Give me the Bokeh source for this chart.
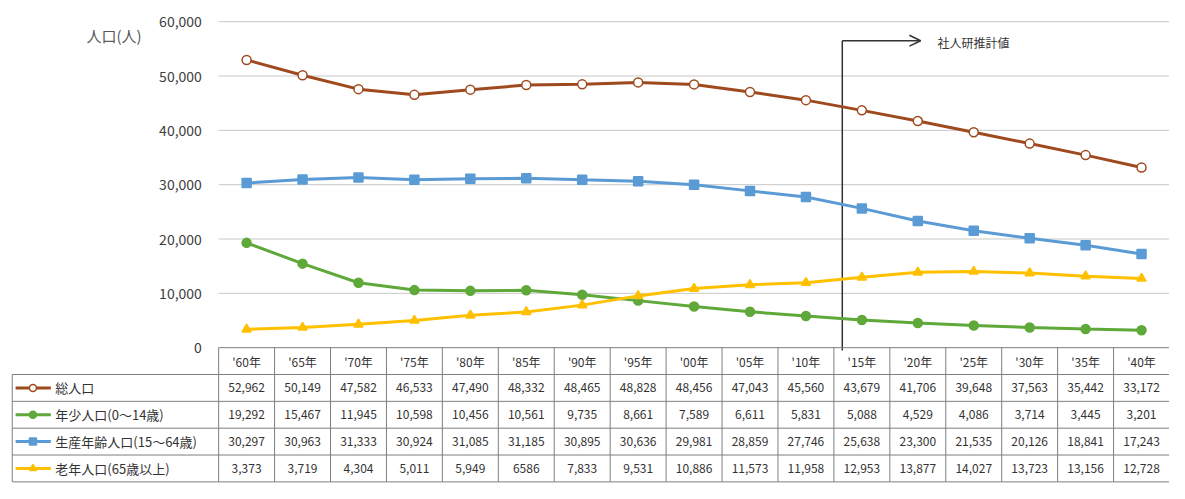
from bokeh.plotting import figure
from bokeh.models import Range1d
from bokeh.core.properties import value
from bokeh.embed import file_html
from bokeh.resources import INLINE

years = ["'60年", "'65年", "'70年", "'75年", "'80年", "'85年", "'90年", "'95年", "'00年",
         "'05年", "'10年", "'15年", "'20年", "'25年", "'30年", "'35年", "'40年"]
total = [52962, 50149, 47582, 46533, 47490, 48332, 48465, 48828, 48456, 47043, 45560,
         43679, 41706, 39648, 37563, 35442, 33172]
young = [19292, 15467, 11945, 10598, 10456, 10561, 9735, 8661, 7589, 6611, 5831,
         5088, 4529, 4086, 3714, 3445, 3201]
working = [30297, 30963, 31333, 30924, 31085, 31185, 30895, 30636, 29981, 28859, 27746,
           25638, 23300, 21535, 20126, 18841, 17243]
old = [3373, 3719, 4304, 5011, 5949, 6586, 7833, 9531, 10886, 11573, 11958,
       12953, 13877, 14027, 13723, 13156, 12728]
names = ["総人口", "年少人口(0～14歳)", "生産年齢人口(15～64歳)", "老年人口(65歳以上)"]
y_ticks = [0, 10000, 20000, 30000, 40000, 50000, 60000]

FONT = value("Noto Sans CJK JP")
colors = ["#9E4A1E", "#5FA83A", "#5B9BD5", "#FFC000"]
series = [total, young, working, old]
RH = 4940  # table row height in y units
n = len(years)
xs = [i + 0.5 for i in range(n)]

p = figure(width=1169, height=483, output_backend="svg", toolbar_location=None,
           x_range=Range1d(-3.9, 17.0), y_range=Range1d(-25000, 63900), min_border=0)
p.axis.visible = False
p.grid.visible = False
p.outline_line_color = None

# gridlines
p.segment(x0=[0] * 6, x1=[n] * 6, y0=y_ticks[1:], y1=y_ticks[1:], line_color="#C8C8C8", line_width=1)
p.text(x=[-0.3] * len(y_ticks), y=y_ticks, text=[f"{t:,}" for t in y_ticks], text_align="right",
       text_baseline="middle", text_font=FONT, text_font_size="14px", text_color="#404040")
p.text(x=[-1.87], y=[57500], text=["人口(人)"], text_align="center", text_baseline="middle",
       text_font=FONT, text_font_size="15px", text_color="#595959")

# projection marker
p.line([11.15, 11.15], [-500, 56500], line_color="#333333", line_width=1.5)
p.line([11.15, 12.55], [56500, 56500], line_color="#333333", line_width=1.5)
p.line([12.35, 12.55, 12.35], [57500, 56500, 55500], line_color="#333333", line_width=1.5)
p.text(x=[12.85], y=[56200], text=["社人研推計値"], text_baseline="middle", text_font=FONT,
       text_font_size="12px", text_color="#333333")

# series
markers = ["circle", "circle", "square", "triangle"]
for k, (s, c, m) in enumerate(zip(series, colors, markers)):
    p.line(xs, s, line_color=c, line_width=3)
    fill = "white" if k == 0 else c
    p.scatter(xs, s, marker=m, size=9, fill_color=fill, line_color=c, line_width=1.5)

# table
grid_c = "#7F7F7F"
hy = [0, -RH, -2 * RH, -3 * RH, -4 * RH, -5 * RH]
p.segment(x0=[0] + [-3.69] * 5, x1=[n] * 6, y0=hy, y1=hy, line_color=grid_c, line_width=1)
vx = list(range(n + 1))
p.segment(x0=vx, x1=vx, y0=[0] * len(vx), y1=[-5 * RH] * len(vx), line_color=grid_c, line_width=1)
p.segment(x0=[-3.69], x1=[-3.69], y0=[-RH], y1=[-5 * RH], line_color=grid_c, line_width=1)
p.text(x=xs, y=[-RH / 2] * n, text=years, text_align="center", text_baseline="middle",
       text_font=FONT, text_font_size="12px", text_color="#333333")
for k, (s, c, m, nm) in enumerate(zip(series, colors, markers, names)):
    yc = -RH * (k + 1.5)
    p.text(x=xs, y=[yc] * n, text=[f"{v:,}" if v != 6586 else "6586" for v in s],
           text_align="center", text_baseline="middle", text_font=FONT,
           text_font_size="12px", text_color="#333333")
    p.line([-3.63, -3.0], [yc, yc], line_color=c, line_width=3)
    p.scatter([-3.32], [yc], marker=m, size=7, fill_color="white" if k == 0 else c,
              line_color=c, line_width=1.5)
    p.text(x=[-2.92], y=[yc], text=[nm], text_baseline="middle", text_font=FONT,
           text_font_size="13px", text_color="#333333")

open("out.html", "w").write(file_html(p, INLINE))
